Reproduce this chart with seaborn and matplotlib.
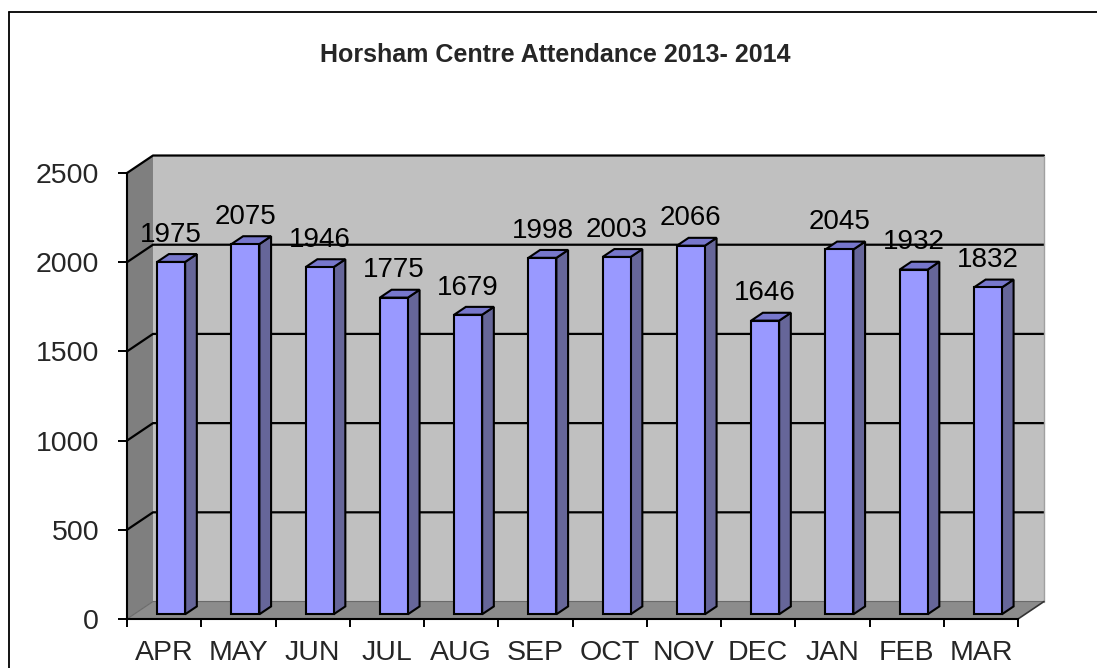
import matplotlib
matplotlib.use("Agg")
import matplotlib.pyplot as plt
import seaborn as sns
import pandas as pd
from matplotlib.patches import Polygon, Rectangle
from matplotlib.lines import Line2D

months = ["APR", "MAY", "JUN", "JUL", "AUG", "SEP", "OCT", "NOV", "DEC", "JAN", "FEB", "MAR"]
attendance = [1975, 2075, 1946, 1775, 1679, 1998, 2003, 2066, 1646, 2045, 1932, 1832]
y_ticks = [0, 500, 1000, 1500, 2000, 2500]
title = "Horsham Centre Attendance 2013- 2014"

df = pd.DataFrame({"month": months, "attendance": attendance})

sns.set_style("white")
plt.rcParams["font.family"] = ["Liberation Sans", "DejaVu Sans"]

fig = plt.figure(figsize=(10.97, 6.68), dpi=100)
ax = fig.add_axes([127 / 1097, 49 / 668, 891 / 1097, 446 / 668])
ax.set_facecolor("none")

ymax = 2500
# depth of the fake 3d box, in data units
DX, DY = 0.35, 98
FX, FY = 0.27 * DX, 0.27 * DY
BX, BY = 0.72 * DX, 0.72 * DY
x0, x1 = -0.5, len(months) - 0.5

# walls and floor
ax.add_patch(Polygon([(x0 + DX, DY), (x1 + DX, DY), (x1 + DX, ymax + DY), (x0 + DX, ymax + DY)],
                     closed=True, facecolor="#c0c0c0", edgecolor="none", zorder=0, clip_on=False))
ax.add_patch(Polygon([(x0, 0), (x0, ymax), (x0 + DX, ymax + DY), (x0 + DX, DY)],
                     closed=True, facecolor="#7f7f7f", edgecolor="none", zorder=0, clip_on=False))
ax.add_patch(Polygon([(x0, 0), (x1, 0), (x1 + DX, DY), (x0 + DX, DY)],
                     closed=True, facecolor="#8c8c8c", edgecolor="none", zorder=0.2, clip_on=False))

# gridlines running across side wall and back wall
for v in y_ticks[1:]:
    ax.add_line(Line2D([x0, x0 + DX, x1 + DX], [v, v + DY, v + DY], color="black", lw=1.6,
                       zorder=0.5, clip_on=False))
ax.add_line(Line2D([x0, x0 + DX, x1 + DX], [0, DY, DY], color="#6a6a6a", lw=0.8, zorder=0.5, clip_on=False))
ax.add_line(Line2D([x1 + DX, x1 + DX], [DY, ymax + DY], color="#a0a0a0", lw=1, zorder=0.5, clip_on=False))
ax.add_line(Line2D([x1, x1 + DX], [0, DY], color="#333333", lw=1.2, zorder=0.5, clip_on=False))

sns.barplot(data=df, x="month", y="attendance", color="#9999ff", saturation=1, width=0.377,
            edgecolor="black", linewidth=1.5, ax=ax, zorder=3)

for p in ax.patches:
    if not isinstance(p, Rectangle):
        continue
    bx, w, h = p.get_x(), p.get_width(), p.get_height()
    p.set_x(bx + FX)
    p.set_y(FY)
    p.set_clip_on(False)
    side = [(bx + w + FX, FY), (bx + w + FX, h + FY), (bx + w + BX, h + BY), (bx + w + BX, BY)]
    top = [(bx + FX, h + FY), (bx + w + FX, h + FY), (bx + w + BX, h + BY), (bx + BX, h + BY)]
    ax.add_patch(Polygon(side, closed=True, facecolor="#666699", edgecolor="black", lw=1.5,
                         zorder=2.9, clip_on=False))
    ax.add_patch(Polygon(top, closed=True, facecolor="#7777cc", edgecolor="black", lw=1.5,
                         zorder=2.9, clip_on=False))

for i, v in enumerate(attendance):
    ax.annotate(str(v), xy=(i + FX, v), xytext=(0, 23), textcoords="offset points",
                ha="center", va="center", fontsize=20, color="black", zorder=5)

ax.set_xlim(x0, x1)
ax.set_ylim(0, ymax)
ax.set_yticks(y_ticks)
ax.set_xticks(range(len(months)))
ax.set_xticklabels(months)
ax.set_xticks([i - 0.5 for i in range(len(months) + 1)], minor=True)
ax.set_xlabel("")
ax.set_ylabel("")
ax.tick_params(axis="y", which="major", direction="out", length=6.5, width=1.4, pad=13.5,
               labelsize=20.5, color="black", left=True)
ax.tick_params(axis="x", which="major", length=0, pad=15, labelsize=20.5)
ax.tick_params(axis="x", which="minor", direction="out", length=6, width=1.4, color="black", bottom=True)
for s in ["top", "right"]:
    ax.spines[s].set_visible(False)
for s in ["left", "bottom"]:
    ax.spines[s].set_color("black")
    ax.spines[s].set_linewidth(1.5)
    ax.spines[s].set_zorder(4)

fig.text(555 / 1097, 1 - 55 / 668, title, ha="center", va="center", fontsize=18, fontweight="bold")

# chart border (runs off the right and bottom of the image)
fig.add_artist(Line2D([8.5 / 1097, 8.5 / 1097], [0, 1 - 11.5 / 668], color="black", lw=1.3,
                      transform=fig.transFigure))
fig.add_artist(Line2D([8.5 / 1097, 1], [1 - 11.5 / 668, 1 - 11.5 / 668], color="black", lw=1.3,
                      transform=fig.transFigure))

fig.savefig("out.png", dpi=100)
